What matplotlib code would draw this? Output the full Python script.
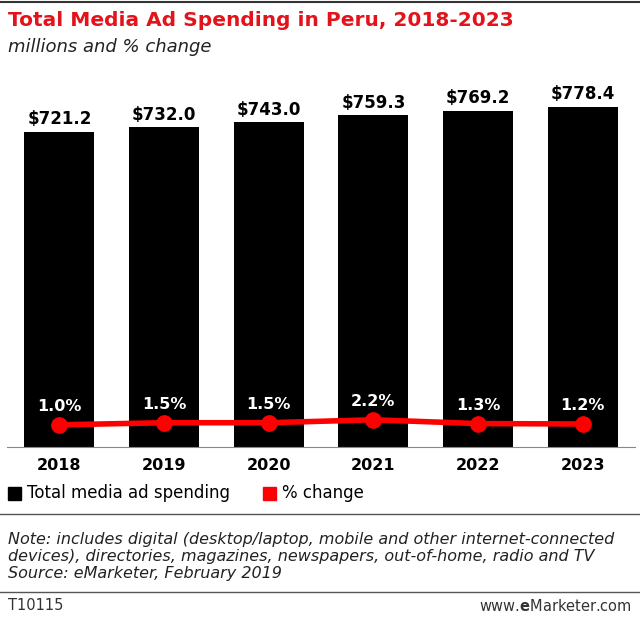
import matplotlib.pyplot as plt
from matplotlib.lines import Line2D

years = ['2018', '2019', '2020', '2021', '2022', '2023']
spending = [721.2, 732.0, 743.0, 759.3, 769.2, 778.4]
pct_change = [1.0, 1.5, 1.5, 2.2, 1.3, 1.2]

W, H = 640, 623
fig = plt.figure(figsize=(6.4, 6.23), dpi=100)

def fx(px):
    return px / W

def fy(py):
    return 1 - py / H

# top rule
fig.add_artist(Line2D([0, 1], [fy(2), fy(2)], color='#333333', lw=1.5))
fig.text(fx(8), fy(20), 'Total Media Ad Spending in Peru, 2018-2023', color='#e3121b',
         fontsize=14.5, fontweight='bold', va='center')
fig.text(fx(8), fy(47), 'millions and % change', fontsize=13, style='italic', va='center', color='#222222')

ax = fig.add_axes([fx(7), fy(447), fx(628), (447 - 90) / H])
x = range(len(years))
ax.bar(x, spending, width=0.67, color='black')
for i, v in enumerate(spending):
    ax.text(i, v + 8, f'${v:.1f}', ha='center', va='bottom', fontsize=12, fontweight='bold')
ax.set_xlim(-0.5, 5.5)
ax.set_ylim(0, 817)
ax.set_xticks(list(x))
ax.set_xticklabels(years, fontsize=11.5, fontweight='bold')
ax.tick_params(axis='x', length=0, pad=8)
ax.set_yticks([])
for s in ['top', 'right', 'left']:
    ax.spines[s].set_visible(False)
ax.spines['bottom'].set_color('#888888')

ax2 = ax.twinx()
ax2.plot(list(x), pct_change, color='#ff0000', lw=4, marker='o', markersize=11)
for i, v in enumerate(pct_change):
    ax2.text(i, v + 2.6, f'{v:.1f}%', ha='center', va='bottom', color='white',
             fontsize=11.5, fontweight='bold')
ax2.set_ylim(-4.3, 81)
ax2.axis('off')

# legend
fig.patches.append(plt.Rectangle((fx(8), fy(500)), fx(13), 13 / H, color='black', transform=fig.transFigure))
fig.text(fx(27), fy(493), 'Total media ad spending', fontsize=12, va='center')
fig.patches.append(plt.Rectangle((fx(263), fy(500)), fx(13), 13 / H, color='#ff0000', transform=fig.transFigure))
fig.text(fx(282), fy(493), '% change', fontsize=12, va='center')

fig.add_artist(Line2D([0, 1], [fy(514), fy(514)], color='#555555', lw=1))
fig.text(fx(8), fy(532), 'Note: includes digital (desktop/laptop, mobile and other internet-connected\n'
         'devices), directories, magazines, newspapers, out-of-home, radio and TV\n'
         'Source: eMarketer, February 2019',
         fontsize=11.5, style='italic', va='top', linespacing=1.15, color='#222222')
fig.add_artist(Line2D([0, 1], [fy(592), fy(592)], color='#555555', lw=1))
fig.text(fx(8), fy(606), 'T10115', fontsize=10.5, va='center', color='#333333')
fig.text(fx(632), fy(606), r'www.$\bf{e}$Marketer.com', fontsize=10.5, va='center', ha='right', color='#333333')

fig.savefig('out.png', dpi=100)
